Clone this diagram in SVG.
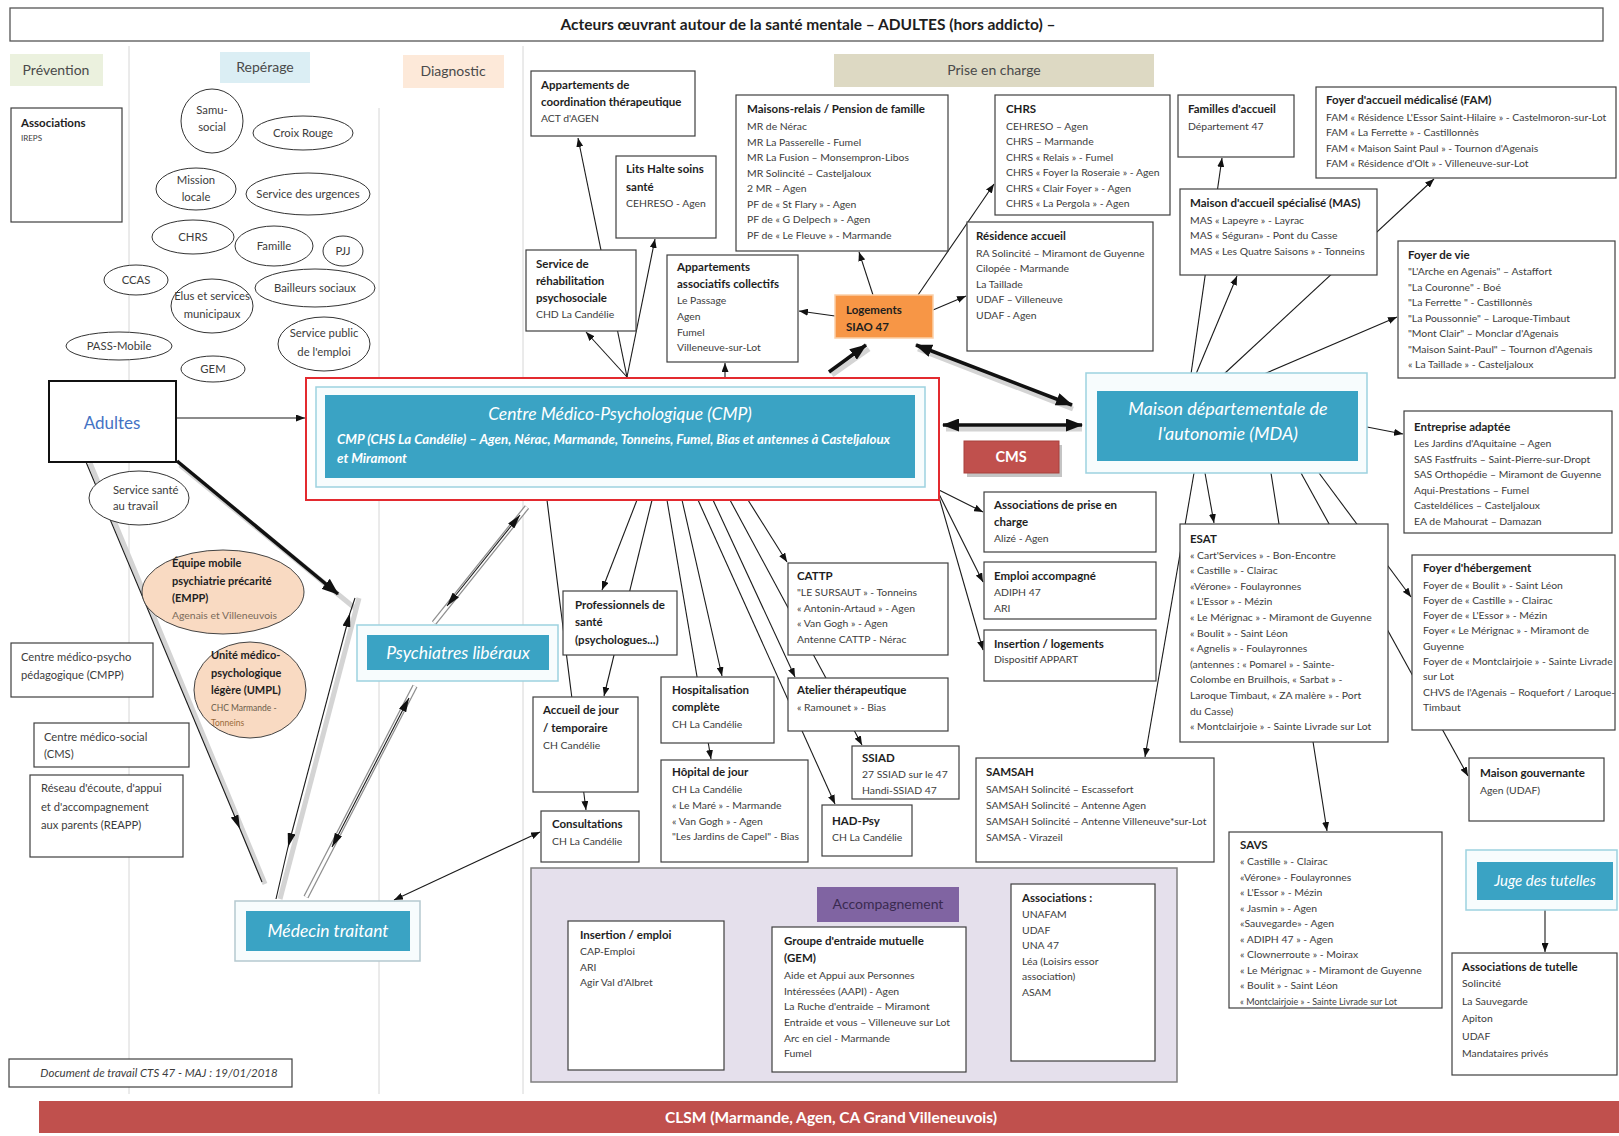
<svg xmlns="http://www.w3.org/2000/svg" width="1619" height="1136" viewBox="0 0 1619 1136">
<style>
.t{font-family:Lato,'Liberation Sans',sans-serif;font-size:10.4px;fill:#3c3c3c}
.b{font-weight:bold;fill:#1e1e1e;font-size:11.5px}
.e{font-size:11.3px}
.l{font-size:11.2px}
.c{text-anchor:middle}
.box{fill:#fff;stroke:#3f3f3f;stroke-width:1.2}
.el{fill:#fff;stroke:#333;stroke-width:1}
.teal{fill:#3aa3c4}
.frame{fill:#f7fcfd;stroke:#9dd2df;stroke-width:1.5}
.wi{fill:#fff;font-style:italic}
.hd{font-size:14px;fill:#4a4a4a}
.ln{stroke:#1a1a1a;stroke-width:1.1;fill:none}
.thick{stroke:#111;stroke-width:3.5;fill:none}
.sh{stroke:#d4d4d4;stroke-width:5;fill:none}
.hol{stroke:#8f8f8f;stroke-width:5.5;fill:none}
.holw{stroke:#fff;stroke-width:3;fill:none}
.vl{stroke:#d6d6d6;stroke-width:1}
</style>
<defs>
<marker id="ah" markerUnits="userSpaceOnUse" markerWidth="9" markerHeight="7" refX="9" refY="3.5" orient="auto-start-reverse"><path d="M0,0 L9,3.5 L0,7 z" fill="#111"/></marker>
<marker id="ahM" markerUnits="userSpaceOnUse" markerWidth="14" markerHeight="8" refX="14" refY="4" orient="auto-start-reverse"><path d="M0,0 L14,4 L0,8 z" fill="#111"/></marker>
<marker id="ahL" markerUnits="userSpaceOnUse" markerWidth="17" markerHeight="13" refX="16" refY="6.5" orient="auto-start-reverse"><path d="M0,0 L17,6.5 L0,13 z" fill="#111"/></marker>
</defs>
<rect width="1619" height="1136" fill="#fff"/>

<g id="columns">
<line class="vl" x1="129" y1="46" x2="129" y2="1094"/>
<line class="vl" x1="379" y1="108" x2="379" y2="1094"/>
<line class="vl" x1="523" y1="46" x2="523" y2="1094"/>
</g>

<g id="title">
<rect x="10" y="8" width="1593" height="33" fill="#fff" stroke="#555" stroke-width="1.3"/>
<text class="t b c" x="808" y="30" style="font-size:15.5px">Acteurs œuvrant autour de la santé mentale – ADULTES (hors addicto) –</text>
</g>

<g id="headers">
<rect x="10" y="54" width="93" height="32" fill="#ebf1de"/>
<text class="t hd c" x="56" y="75">Prévention</text>
<rect x="220" y="52" width="90" height="31" fill="#dbeef4"/>
<text class="t hd c" x="265" y="72">Repérage</text>
<rect x="403" y="55" width="101" height="33" fill="#fde9d9"/>
<text class="t hd c" x="453" y="76">Diagnostic</text>
<rect x="834" y="54" width="320" height="33" fill="#ddd9c3"/>
<text class="t hd c" x="994" y="75">Prise en charge</text>
</g>

<g id="connectors">
<line class="ln" x1="627" y1="377" x2="578" y2="138" marker-end="url(#ah)"/>
<line class="ln" x1="627" y1="377" x2="586" y2="332" marker-end="url(#ah)"/>
<line class="ln" x1="627" y1="377" x2="655" y2="239" marker-end="url(#ah)"/>
<line class="ln" x1="725" y1="378" x2="725" y2="363" marker-end="url(#ah)"/>
<line class="ln" x1="835" y1="316" x2="799" y2="311" marker-end="url(#ah)"/>
<line class="ln" x1="873" y1="295" x2="859" y2="252" marker-end="url(#ah)"/>
<line class="ln" x1="918" y1="295" x2="994" y2="184" marker-end="url(#ah)"/>
<line class="ln" x1="933" y1="310" x2="966" y2="296" marker-end="url(#ah)"/>
<line class="ln" x1="939" y1="490" x2="983" y2="512" marker-end="url(#ah)"/>
<line class="ln" x1="939" y1="494" x2="983" y2="582" marker-end="url(#ah)"/>
<line class="ln" x1="939" y1="497" x2="983" y2="650" marker-end="url(#ah)"/>
<line class="ln" x1="547" y1="500" x2="586" y2="810" marker-end="url(#ah)"/>
<line class="ln" x1="637" y1="500" x2="602" y2="590" marker-end="url(#ah)"/>
<line class="ln" x1="652" y1="500" x2="604" y2="696" marker-end="url(#ah)"/>
<line class="ln" x1="667" y1="500" x2="711" y2="759" marker-end="url(#ah)"/>
<line class="ln" x1="682" y1="500" x2="722" y2="676" marker-end="url(#ah)"/>
<line class="ln" x1="698" y1="500" x2="835" y2="804" marker-end="url(#ah)"/>
<line class="ln" x1="713" y1="500" x2="795" y2="677" marker-end="url(#ah)"/>
<line class="ln" x1="730" y1="500" x2="862" y2="745" marker-end="url(#ah)"/>
<line class="ln" x1="748" y1="500" x2="787" y2="562" marker-end="url(#ah)"/>
<line class="ln" x1="1191" y1="374" x2="1222" y2="158" marker-end="url(#ah)"/>
<line class="ln" x1="1196" y1="374" x2="1237" y2="276" marker-end="url(#ah)"/>
<line class="ln" x1="1224" y1="374" x2="1434" y2="179" marker-end="url(#ah)"/>
<line class="ln" x1="1264" y1="374" x2="1397" y2="317" marker-end="url(#ah)"/>
<line class="ln" x1="1367" y1="427" x2="1403" y2="434" marker-end="url(#ah)"/>
<line class="ln" x1="1194" y1="473" x2="1145" y2="757" marker-end="url(#ah)"/>
<line class="ln" x1="1205" y1="473" x2="1214" y2="523" marker-end="url(#ah)"/>
<line class="ln" x1="1271" y1="473" x2="1327" y2="831" marker-end="url(#ah)"/>
<line class="ln" x1="1319" y1="473" x2="1411" y2="597" marker-end="url(#ah)"/>
<line class="ln" x1="1301" y1="473" x2="1468" y2="776" marker-end="url(#ah)"/>
<line class="ln" x1="1545" y1="910" x2="1545" y2="952" marker-end="url(#ah)"/>
<line class="ln" x1="176" y1="418" x2="305" y2="418" marker-end="url(#ah)"/>
<line class="ln" x1="394" y1="900" x2="540" y2="832" marker-start="url(#ah)" marker-end="url(#ah)"/>
<!-- thick arrows -->
<line class="sh" x1="946" y1="429" x2="1082" y2="429"/>
<line class="thick" stroke-width="4" x1="943" y1="425" x2="1082" y2="425" marker-start="url(#ahL)" marker-end="url(#ahL)"/>
<line class="sh" x1="918" y1="349" x2="1073" y2="409"/>
<line class="thick" x1="916" y1="345" x2="1072" y2="405" marker-start="url(#ahL)" marker-end="url(#ahL)"/>
<line class="sh" x1="832" y1="375" x2="869" y2="349"/>
<line class="thick" x1="829" y1="372" x2="866" y2="345" marker-end="url(#ahL)"/>
<line class="sh" x1="180" y1="465" x2="356" y2="609"/>
<line class="thick" x1="177" y1="461" x2="338" y2="594" marker-end="url(#ahL)"/>
<!-- Adultes -> Médecin -->
<line class="sh" stroke-width="2.5" x1="90" y1="463" x2="265" y2="884"/>
<line class="ln" stroke-width="1.8" x1="86" y1="462" x2="240" y2="829" marker-end="url(#ahM)"/>
<line class="ln" stroke-width="1.2" x1="240" y1="829" x2="262" y2="882"/>
<!-- Médecin <-> Psychiatres corner -->
<line class="sh" stroke-width="2.5" x1="359" y1="598" x2="280" y2="899"/>
<line class="ln" stroke-width="1.8" x1="350" y1="613" x2="288" y2="847" marker-start="url(#ahM)" marker-end="url(#ahM)"/>
<line class="ln" stroke-width="1.2" x1="350" y1="613" x2="355" y2="598"/>
<line class="ln" stroke-width="1.2" x1="288" y1="847" x2="276" y2="899"/>
<!-- hollow double arrows -->
<line class="hol" x1="306" y1="897" x2="415" y2="686"/>
<line class="holw" x1="306" y1="897" x2="415" y2="686"/>
<line class="ln" x1="409" y1="698" x2="332" y2="847" marker-start="url(#ahM)" marker-end="url(#ahM)"/>
<line class="hol" x1="434" y1="623" x2="527" y2="507"/>
<line class="holw" x1="434" y1="623" x2="527" y2="507"/>
<line class="ln" x1="447" y1="606" x2="520" y2="515" marker-start="url(#ahM)" marker-end="url(#ahM)"/>
</g>

<g id="n-assoc-prev">
<rect class="box" x="11" y="108" width="111" height="114"/>
<text class="t b" x="21" y="127">Associations</text>
<text class="t" x="21" y="141" style="font-size:8px">IREPS</text>
</g>

<g id="n-samu"><ellipse class="el" cx="212" cy="121" rx="31" ry="32"/><text class="t e c" x="212" y="114">Samu-</text><text class="t e c" x="212" y="131">social</text></g>
<g id="n-croix"><ellipse class="el" cx="303" cy="133" rx="50" ry="17"/><text class="t e c" x="303" y="137">Croix Rouge</text></g>
<g id="n-mission"><ellipse class="el" cx="196" cy="189" rx="40" ry="21"/><text class="t e c" x="196" y="184">Mission</text><text class="t e c" x="196" y="201">locale</text></g>
<g id="n-urgences"><ellipse class="el" cx="308" cy="194" rx="62" ry="21"/><text class="t e c" x="308" y="198">Service des urgences</text></g>
<g id="n-chrs-e"><ellipse class="el" cx="193" cy="237" rx="41" ry="17"/><text class="t e c" x="193" y="241">CHRS</text></g>
<g id="n-famille"><ellipse class="el" cx="274" cy="246" rx="39" ry="20"/><text class="t e c" x="274" y="250">Famille</text></g>
<g id="n-pjj"><ellipse class="el" cx="343" cy="251" rx="20" ry="15"/><text class="t e c" x="343" y="255">PJJ</text></g>
<g id="n-ccas"><ellipse class="el" cx="136" cy="280" rx="32" ry="15"/><text class="t e c" x="136" y="284">CCAS</text></g>
<g id="n-elus"><ellipse class="el" cx="212" cy="306" rx="41" ry="27"/><text class="t e c" x="212" y="300">Elus et services</text><text class="t e c" x="212" y="318">municipaux</text></g>
<g id="n-bailleurs"><ellipse class="el" cx="315" cy="288" rx="60" ry="19"/><text class="t e c" x="315" y="292">Bailleurs sociaux</text></g>
<g id="n-spe"><ellipse class="el" cx="324" cy="344" rx="46" ry="27"/><text class="t e c" x="324" y="337">Service public</text><text class="t e c" x="324" y="356">de l'emploi</text></g>
<g id="n-pass"><ellipse class="el" cx="119" cy="346" rx="53" ry="14"/><text class="t e c" x="119" y="350">PASS-Mobile</text></g>
<g id="n-gem-e"><ellipse class="el" cx="213" cy="369" rx="32" ry="13"/><text class="t e c" x="213" y="373">GEM</text></g>
<g id="n-sst"><ellipse class="el" cx="139" cy="498" rx="50" ry="27"/><text class="t e" x="113" y="494">Service santé</text><text class="t e" x="113" y="510">au travail</text></g>
<g id="n-empp"><ellipse cx="223" cy="592" rx="81" ry="42" fill="#f9dac2" stroke="#444" stroke-width="1"/>
<text class="t b" x="172" y="567" style="font-size:11px">Équipe mobile</text><text class="t b" x="172" y="585" style="font-size:11px">psychiatrie précarité</text><text class="t b" x="172" y="602" style="font-size:11px">(EMPP)</text><text class="t" x="172" y="619" style="fill:#7a6a5a">Agenais et Villeneuvois</text></g>
<g id="n-umpl"><ellipse cx="250" cy="690" rx="56" ry="48" fill="#f9dac2" stroke="#444" stroke-width="1"/>
<text class="t b" x="211" y="659" style="font-size:11px">Unité médico-</text><text class="t b" x="211" y="677" style="font-size:11px">psychologique</text><text class="t b" x="211" y="694" style="font-size:11px">légère (UMPL)</text><text class="t" x="211" y="711" style="font-size:8.5px;fill:#6a5a4a">CHC Marmande -</text><text class="t" x="211" y="726" style="font-size:8.5px;fill:#9a6a3a">Tonneins</text></g>

<g id="n-adultes">
<rect x="49" y="381" width="127" height="81" fill="#fff" stroke="#111" stroke-width="2"/>
<text class="t c" x="112" y="429" style="font-size:17px;fill:#4472c4">Adultes</text>
</g>

<g id="n-cmpp"><rect class="box" x="11" y="643" width="142" height="54"/><text class="t l" x="21" y="661">Centre médico-psycho</text><text class="t l" x="21" y="679">pédagogique (CMPP)</text></g>
<g id="n-cms-left"><rect class="box" x="34" y="723" width="155" height="44"/><text class="t l" x="44" y="741">Centre médico-social</text><text class="t l" x="44" y="758">(CMS)</text></g>
<g id="n-reapp"><rect class="box" x="30" y="775" width="153" height="82"/><text class="t l" x="41" y="792">Réseau d'écoute, d'appui</text><text class="t l" x="41" y="811">et d'accompagnement</text><text class="t l" x="41" y="829">aux parents (REAPP)</text></g>
<g id="n-doc"><rect class="box" x="9" y="1059" width="283" height="28"/><text class="t c" x="159" y="1077" style="font-style:italic;font-size:11.5px">Document de travail CTS 47 - MAJ : 19/01/2018</text></g>

<g id="n-cmp">
<rect x="306" y="378" width="633" height="122" fill="#fff" stroke="#e32a2f" stroke-width="2"/>
<rect class="frame" x="316" y="387" width="609" height="100"/>
<rect class="teal" x="325" y="395" width="590" height="83"/>
<text class="t wi c" x="620" y="420" style="font-size:17.5px">Centre Médico-Psychologique (CMP)</text>
<text class="t wi" x="337" y="444" style="font-size:13.3px;font-weight:bold">CMP (CHS La Candélie) – Agen, Nérac, Marmande, Tonneins, Fumel, Bias et antennes à Casteljaloux</text>
<text class="t wi" x="337" y="463" style="font-size:13.3px;font-weight:bold">et Miramont</text>
</g>
<g id="n-cms">
<rect x="967" y="445" width="95" height="32" fill="#c4c4c4"/>
<rect x="964" y="441" width="95" height="32" fill="#c0504d" stroke="#a8403d" stroke-width="1"/>
<text class="t c" x="1011" y="462" style="font-size:14.5px;font-weight:bold;fill:#fff">CMS</text>
</g>
<g id="n-mda">
<rect class="frame" x="1086" y="373" width="281" height="100"/>
<rect class="teal" x="1097" y="391" width="261" height="70"/>
<text class="t wi c" x="1228" y="415" style="font-size:18px">Maison départementale de</text>
<text class="t wi c" x="1228" y="440" style="font-size:18px">l'autonomie (MDA)</text>
</g>
<g id="n-psy">
<rect class="frame" x="357" y="625" width="201" height="56"/>
<rect class="teal" x="367" y="635" width="182" height="35"/>
<text class="t wi c" x="458" y="659" style="font-size:17.5px">Psychiatres libéraux</text>
</g>
<g id="n-medecin">
<rect class="frame" x="235" y="901" width="185" height="60" style="stroke:#b5c9cf"/>
<rect class="teal" x="246" y="911" width="164" height="40"/>
<text class="t wi c" x="328" y="937" style="font-size:17.5px">Médecin traitant</text>
</g>
<g id="n-juge">
<rect class="frame" x="1466" y="850" width="151" height="60"/>
<rect class="teal" x="1477" y="862" width="136" height="38"/>
<text class="t wi c" x="1545" y="886" style="font-size:15px">Juge des tutelles</text>
</g>

<g id="n-act"><rect class="box" x="531" y="71" width="164" height="65"/>
<text class="t b" x="541" y="89">Appartements de</text><text class="t b" x="541" y="106">coordination thérapeutique</text><text class="t" x="541" y="122">ACT d'AGEN</text></g>
<g id="n-lits"><rect class="box" x="616" y="156" width="100" height="82"/>
<text class="t b" x="626" y="173">Lits Halte soins</text><text class="t b" x="626" y="191">santé</text><text class="t" x="626" y="207">CEHRESO - Agen</text></g>
<g id="n-mr"><rect class="box" x="736" y="95" width="212" height="156"/>
<text class="t b" x="747" y="113">Maisons-relais / Pension de famille</text>
<text class="t" x="747" y="130">MR de Nérac</text>
<text class="t" x="747" y="145.5">MR La Passerelle - Fumel</text>
<text class="t" x="747" y="161">MR La Fusion – Monsempron-Libos</text>
<text class="t" x="747" y="176.5">MR Solincité – Casteljaloux</text>
<text class="t" x="747" y="192">2 MR – Agen</text>
<text class="t" x="747" y="207.5">PF de « St Flary » - Agen</text>
<text class="t" x="747" y="223">PF de « G Delpech » - Agen</text>
<text class="t" x="747" y="238.5">PF de « Le Fleuve » - Marmande</text></g>
<g id="n-chrs"><rect class="box" x="995" y="95" width="175" height="120"/>
<text class="t b" x="1006" y="113">CHRS</text>
<text class="t" x="1006" y="129.5">CEHRESO – Agen</text>
<text class="t" x="1006" y="145">CHRS – Marmande</text>
<text class="t" x="1006" y="160.5">CHRS « Relais » - Fumel</text>
<text class="t" x="1006" y="176">CHRS « Foyer la Roseraie » - Agen</text>
<text class="t" x="1006" y="191.5">CHRS « Clair Foyer » - Agen</text>
<text class="t" x="1006" y="207">CHRS « La Pergola » - Agen</text></g>
<g id="n-ra"><rect class="box" x="967" y="222" width="186" height="129"/>
<text class="t b" x="976" y="240">Résidence accueil</text>
<text class="t" x="976" y="256.5">RA Solincité – Miramont de Guyenne</text>
<text class="t" x="976" y="272">Cilopée - Marmande</text>
<text class="t" x="976" y="287.5">La Taillade</text>
<text class="t" x="976" y="303">UDAF – Villeneuve</text>
<text class="t" x="976" y="318.5">UDAF - Agen</text></g>
<g id="n-familles"><rect class="box" x="1178" y="95" width="116" height="62"/>
<text class="t b" x="1188" y="113">Familles d'accueil</text><text class="t" x="1188" y="130">Département 47</text></g>
<g id="n-fam"><rect class="box" x="1316" y="87" width="300" height="91"/>
<text class="t b" x="1326" y="104">Foyer d'accueil médicalisé (FAM)</text>
<text class="t" x="1326" y="120.5">FAM « Résidence L'Essor Saint-Hilaire » - Castelmoron-sur-Lot</text>
<text class="t" x="1326" y="136">FAM « La Ferrette » - Castillonnès</text>
<text class="t" x="1326" y="151.5">FAM « Maison Saint Paul » - Tournon d'Agenais</text>
<text class="t" x="1326" y="167">FAM « Résidence d'Olt » - Villeneuve-sur-Lot</text></g>
<g id="n-mas"><rect class="box" x="1180" y="189" width="197" height="86"/>
<text class="t b" x="1190" y="207">Maison d'accueil spécialisé (MAS)</text>
<text class="t" x="1190" y="223.5">MAS « Lapeyre » - Layrac</text>
<text class="t" x="1190" y="239">MAS « Séguran» - Pont du Casse</text>
<text class="t" x="1190" y="254.5">MAS « Les Quatre Saisons » - Tonneins</text></g>
<g id="n-fdv"><rect class="box" x="1398" y="241" width="217" height="137"/>
<text class="t b" x="1408" y="259">Foyer de vie</text>
<text class="t" x="1408" y="275">"L'Arche en Agenais" – Astaffort</text>
<text class="t" x="1408" y="290.5">"La Couronne" - Boé</text>
<text class="t" x="1408" y="306">"La Ferrette " - Castillonnès</text>
<text class="t" x="1408" y="321.5">"La Poussonnie" – Laroque-Timbaut</text>
<text class="t" x="1408" y="337">"Mont Clair" – Monclar d'Agenais</text>
<text class="t" x="1408" y="352.5">"Maison Saint-Paul" – Tournon d'Agenais</text>
<text class="t" x="1408" y="368">« La Taillade » - Casteljaloux</text></g>
<g id="n-rehab"><rect class="box" x="526" y="250" width="110" height="81"/>
<text class="t b" x="536" y="268">Service de</text><text class="t b" x="536" y="285">réhabilitation</text><text class="t b" x="536" y="302">psychosociale</text><text class="t" x="536" y="318">CHD La Candélie</text></g>
<g id="n-appcoll"><rect class="box" x="667" y="255" width="131" height="107"/>
<text class="t b" x="677" y="271">Appartements</text><text class="t b" x="677" y="288">associatifs collectifs</text>
<text class="t" x="677" y="304">Le Passage</text><text class="t" x="677" y="320">Agen</text><text class="t" x="677" y="335.5">Fumel</text><text class="t" x="677" y="351">Villeneuve-sur-Lot</text></g>
<g id="n-siao"><rect x="835" y="295" width="98" height="43" fill="#f79646" stroke="#fbd0a8" stroke-width="1.5"/>
<text class="t b" x="846" y="314">Logements</text><text class="t b" x="846" y="331">SIAO 47</text></g>

<g id="n-ea"><rect class="box" x="1404" y="411" width="208" height="122"/>
<text class="t b" x="1414" y="431">Entreprise adaptée</text>
<text class="t" x="1414" y="447">Les Jardins d'Aquitaine – Agen</text>
<text class="t" x="1414" y="462.5">SAS Fastfruits – Saint-Pierre-sur-Dropt</text>
<text class="t" x="1414" y="478">SAS Orthopédie – Miramont de Guyenne</text>
<text class="t" x="1414" y="493.5">Aqui-Prestations – Fumel</text>
<text class="t" x="1414" y="509">Casteldélices – Casteljaloux</text>
<text class="t" x="1414" y="524.5">EA de Mahourat – Damazan</text></g>
<g id="n-apec"><rect class="box" x="984" y="492" width="172" height="60"/>
<text class="t b" x="994" y="509">Associations de prise en</text><text class="t b" x="994" y="526">charge</text><text class="t" x="994" y="542">Alizé - Agen</text></g>
<g id="n-emploi"><rect class="box" x="984" y="562" width="172" height="57"/>
<text class="t b" x="994" y="580">Emploi accompagné</text><text class="t" x="994" y="596">ADIPH 47</text><text class="t" x="994" y="612">ARI</text></g>
<g id="n-inslog"><rect class="box" x="984" y="630" width="172" height="51"/>
<text class="t b" x="994" y="648">Insertion / logements</text><text class="t" x="994" y="663">Dispositif APPART</text></g>
<g id="n-esat"><rect class="box" x="1180" y="524" width="208" height="218"/>
<text class="t b" x="1190" y="543">ESAT</text>
<text class="t" x="1190" y="558.5">« Cart'Services » - Bon-Encontre</text>
<text class="t" x="1190" y="574.1">« Castille » - Clairac</text>
<text class="t" x="1190" y="589.7">«Vérone» - Foulayronnes</text>
<text class="t" x="1190" y="605.3">« L'Essor » - Mézin</text>
<text class="t" x="1190" y="620.9">« Le Mérignac » - Miramont de Guyenne</text>
<text class="t" x="1190" y="636.5">« Boulit » - Saint Léon</text>
<text class="t" x="1190" y="652.1">« Agnelis » - Foulayronnes</text>
<text class="t" x="1190" y="667.7">(antennes : « Pomarel » - Sainte-</text>
<text class="t" x="1190" y="683.3">Colombe en Bruilhois, « Sarbat » -</text>
<text class="t" x="1190" y="698.9">Laroque Timbaut, « ZA malère » - Port</text>
<text class="t" x="1190" y="714.5">du Casse)</text>
<text class="t" x="1190" y="730.1">« Montclairjoie » - Sainte Livrade sur Lot</text></g>
<g id="n-fh"><rect class="box" x="1412" y="555" width="203" height="175"/>
<text class="t b" x="1423" y="572">Foyer d'hébergement</text>
<text class="t" x="1423" y="588.5">Foyer de « Boulit » - Saint Léon</text>
<text class="t" x="1423" y="603.8">Foyer de « Castille » - Clairac</text>
<text class="t" x="1423" y="619.1">Foyer de « L'Essor » - Mézin</text>
<text class="t" x="1423" y="634.4">Foyer « Le Mérignac » - Miramont de</text>
<text class="t" x="1423" y="649.7">Guyenne</text>
<text class="t" x="1423" y="665">Foyer de  « Montclairjoie » - Sainte Livrade</text>
<text class="t" x="1423" y="680.3">sur Lot</text>
<text class="t" x="1423" y="695.6">CHVS de l'Agenais – Roquefort / Laroque-</text>
<text class="t" x="1423" y="710.9">Timbaut</text></g>
<g id="n-mg"><rect class="box" x="1469" y="758" width="135" height="63"/>
<text class="t b" x="1480" y="777">Maison gouvernante</text><text class="t" x="1480" y="794">Agen (UDAF)</text></g>
<g id="n-tutelle"><rect class="box" x="1452" y="953" width="165" height="122"/>
<text class="t b" x="1462" y="971">Associations de tutelle</text>
<text class="t" x="1462" y="987">Solincité</text>
<text class="t" x="1462" y="1004.5">La Sauvegarde</text>
<text class="t" x="1462" y="1022">Apiton</text>
<text class="t" x="1462" y="1039.5">UDAF</text>
<text class="t" x="1462" y="1057">Mandataires privés</text></g>
<g id="n-savs"><rect class="box" x="1229" y="832" width="213" height="176"/>
<text class="t b" x="1240" y="849">SAVS</text>
<text class="t" x="1240" y="865">« Castille » - Clairac</text>
<text class="t" x="1240" y="880.5">«Vérone» - Foulayronnes</text>
<text class="t" x="1240" y="896">« L'Essor » - Mézin</text>
<text class="t" x="1240" y="911.5">« Jasmin » - Agen</text>
<text class="t" x="1240" y="927">«Sauvegarde» - Agen</text>
<text class="t" x="1240" y="942.5">« ADIPH 47 » - Agen</text>
<text class="t" x="1240" y="958">« Clownerroute » - Moirax</text>
<text class="t" x="1240" y="973.5">« Le Mérignac » - Miramont de Guyenne</text>
<text class="t" x="1240" y="989">« Boulit » - Saint Léon</text>
<text class="t" x="1240" y="1004.5" style="font-size:9px">« Montclairjoie » - Sainte Livrade sur Lot</text></g>
<g id="n-samsah"><rect class="box" x="976" y="758" width="238" height="104"/>
<text class="t b" x="986" y="776">SAMSAH</text>
<text class="t" x="986" y="792.5">SAMSAH Solincité – Escassefort</text>
<text class="t" x="986" y="808.5">SAMSAH Solincité – Antenne Agen</text>
<text class="t" x="986" y="824.5">SAMSAH Solincité – Antenne Villeneuve*sur-Lot</text>
<text class="t" x="986" y="840.5">SAMSA - Virazeil</text></g>

<g id="n-prof"><rect class="box" x="563" y="591" width="114" height="64"/>
<text class="t b" x="575" y="609">Professionnels de</text><text class="t b" x="575" y="626">santé</text><text class="t b" x="575" y="644">(psychologues...)</text></g>
<g id="n-accueil"><rect class="box" x="533" y="697" width="105" height="95"/>
<text class="t b" x="543" y="714">Accueil de jour</text><text class="t b" x="543" y="732">/ temporaire</text><text class="t" x="543" y="749">CH Candélie</text></g>
<g id="n-consult"><rect class="box" x="541" y="811" width="98" height="51"/>
<text class="t b" x="552" y="828">Consultations</text><text class="t" x="552" y="845">CH La Candélie</text></g>
<g id="n-hospit"><rect class="box" x="661" y="677" width="113" height="66"/>
<text class="t b" x="672" y="694">Hospitalisation</text><text class="t b" x="672" y="711">complète</text><text class="t" x="672" y="728">CH La Candélie</text></g>
<g id="n-hdj"><rect class="box" x="661" y="760" width="147" height="102"/>
<text class="t b" x="672" y="776">Hôpital  de jour</text>
<text class="t" x="672" y="792.5">CH La Candélie</text>
<text class="t" x="672" y="808.5">« Le Maré » - Marmande</text>
<text class="t" x="672" y="824.5">« Van Gogh » - Agen</text>
<text class="t" x="672" y="840">"Les Jardins de Capel" - Bias</text></g>
<g id="n-cattp"><rect class="box" x="788" y="563" width="160" height="92"/>
<text class="t b" x="797" y="580">CATTP</text>
<text class="t" x="797" y="596">"LE SURSAUT » - Tonneins</text>
<text class="t" x="797" y="611.5">« Antonin-Artaud » - Agen</text>
<text class="t" x="797" y="627">« Van Gogh » - Agen</text>
<text class="t" x="797" y="642.5">Antenne CATTP - Nérac</text></g>
<g id="n-atelier"><rect class="box" x="788" y="678" width="160" height="53"/>
<text class="t b" x="797" y="694">Atelier thérapeutique</text><text class="t" x="797" y="711">« Ramounet » - Bias</text></g>
<g id="n-ssiad"><rect class="box" x="852" y="746" width="107" height="53"/>
<text class="t b" x="862" y="762">SSIAD</text><text class="t" x="862" y="778">27 SSIAD sur le 47</text><text class="t" x="862" y="794">Handi-SSIAD 47</text></g>
<g id="n-had"><rect class="box" x="822" y="805" width="90" height="51"/>
<text class="t b" x="832" y="825">HAD-Psy</text><text class="t" x="832" y="841">CH La Candélie</text></g>

<g id="n-accompagnement">
<rect x="531" y="868" width="646" height="214" fill="#e5e0ec" stroke="#7f7f7f" stroke-width="1.5"/>
<rect x="817" y="887" width="142" height="35" fill="#8064a2"/>
<text class="t c" x="888" y="909" style="font-size:14px;fill:#3a2a50">Accompagnement</text>
</g>
<g id="n-insemploi"><rect class="box" x="568" y="921" width="156" height="149"/>
<text class="t b" x="580" y="939">Insertion / emploi</text><text class="t" x="580" y="955">CAP-Emploi</text><text class="t" x="580" y="971">ARI</text><text class="t" x="580" y="986">Agir Val d'Albret</text></g>
<g id="n-gem"><rect class="box" x="772" y="927" width="194" height="145"/>
<text class="t b" x="784" y="945">Groupe d'entraide mutuelle</text><text class="t b" x="784" y="962">(GEM)</text>
<text class="t" x="784" y="978.5">Aide et Appui aux Personnes</text>
<text class="t" x="784" y="994.5">Intéressées (AAPI) - Agen</text>
<text class="t" x="784" y="1010">La Ruche d'entraide – Miramont</text>
<text class="t" x="784" y="1025.5">Entraide et vous – Villeneuve sur Lot</text>
<text class="t" x="784" y="1041.5">Arc en ciel - Marmande</text>
<text class="t" x="784" y="1057">Fumel</text></g>
<g id="n-assoc-acc"><rect class="box" x="1011" y="884" width="144" height="177"/>
<text class="t b" x="1022" y="902">Associations :</text>
<text class="t" x="1022" y="918">UNAFAM</text><text class="t" x="1022" y="933.5">UDAF</text><text class="t" x="1022" y="949">UNA 47</text>
<text class="t" x="1022" y="964.5">Léa (Loisirs essor</text><text class="t" x="1022" y="980">association)</text><text class="t" x="1022" y="995.5">ASAM</text></g>

<g id="n-clsm">
<rect x="39" y="1101" width="1580" height="32" fill="#c0504d"/>
<text class="t c" x="831" y="1123" style="font-size:15.5px;font-weight:bold;fill:#fff">CLSM (Marmande, Agen, CA Grand Villeneuvois)</text>
</g>
</svg>
